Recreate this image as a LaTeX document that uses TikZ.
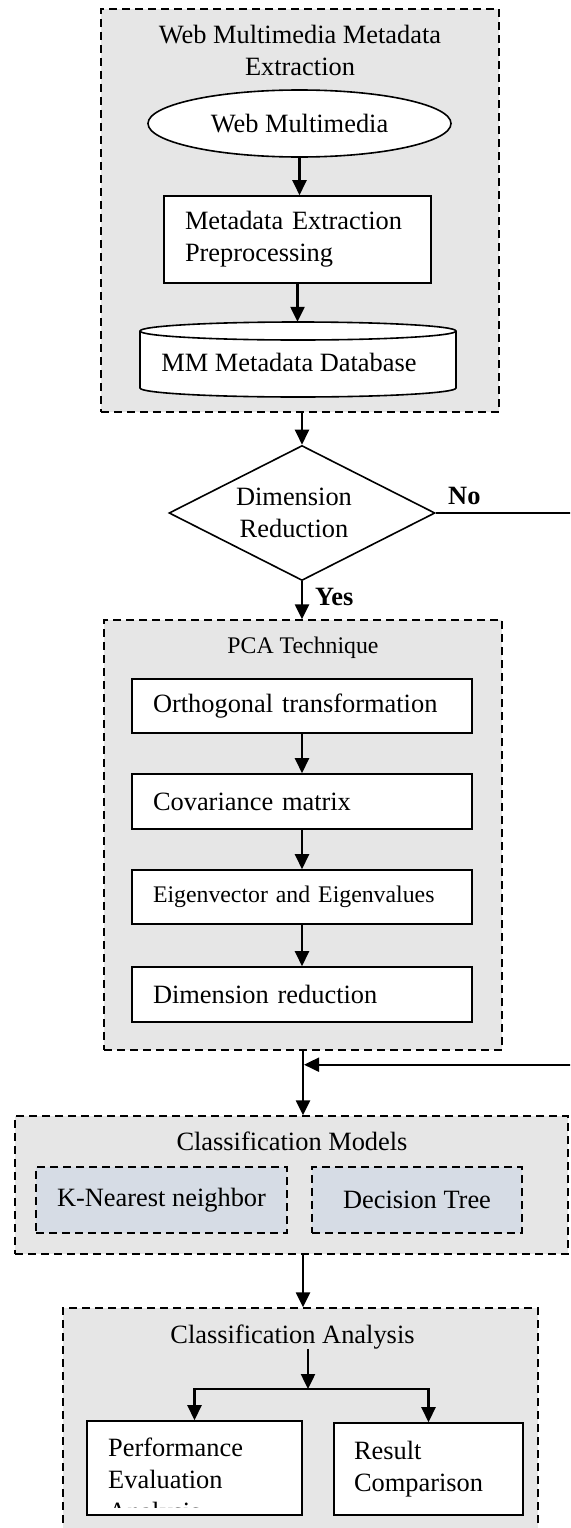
\documentclass[tikz,border=0pt]{standalone}
\usepackage{fontspec}
\setmainfont{Liberation Serif}
\usetikzlibrary{shapes.geometric,arrows.meta,calc}
\definecolor{grpgray}{HTML}{E6E6E6}
\definecolor{subblue}{HTML}{D6DCE5}
\begin{document}
\begin{tikzpicture}[x=1pt,y=-1pt,
  font=\fontsize{26.4}{31.7}\selectfont,
  grp/.style={draw, dash pattern=on 8pt off 5pt, line width=1.4pt, fill=grpgray, inner sep=0pt},
  sub/.style={grp, fill=subblue},
  procbox/.style={draw, line width=1.6pt, fill=white, inner sep=0pt},
  lbox/.style={procbox, align=left, inner xsep=21pt, inner ysep=0pt},
  arr/.style={line width=2.4pt, -{Triangle[length=15pt,width=14pt]}},
  lbl/.style={inner sep=0pt},
  smallfont/.style={font=\fontsize{23.8}{28.6}\selectfont},
  boldlbl/.style={inner sep=0pt, font=\fontsize{26.4}{31.7}\selectfont\bfseries}
]
\useasboundingbox (0,0) rectangle (570,1528);
\fill[white] (0,0) rectangle (570,1528);
\clip (0,0) rectangle (570,1528);

% ---- group 1 ----
\node[grp, minimum width=398pt, minimum height=403pt] (g1) at (300,210.5) {};
\node[lbl, align=center, anchor=base] (t1) at (300,75) {Web Multimedia Metadata\\Extraction};
\node[draw, ellipse, line width=1.6pt, fill=white, minimum width=303pt, minimum height=67pt, inner sep=0pt] (web) at (299.5,123.5) {Web Multimedia};
\node[lbox, text width=225pt, minimum height=87pt] (prep) at (297.5,239.5) {Metadata Extraction\\Preprocessing};
\node[lbl, minimum width=316pt, minimum height=75pt] (db) at (298,359.5) {};
\path[fill=white, draw, line width=1.6pt] (140,331) -- (140,388)
  arc[start angle=180, end angle=360, x radius=158pt, y radius=9pt] -- (456,331)
  arc[start angle=0, end angle=180, x radius=158pt, y radius=9pt] -- cycle;
\draw[line width=1.6pt] (140,331) arc[start angle=180, end angle=360, x radius=158pt, y radius=9pt];
\node[lbl] (dbtext) at ([xshift=-9pt,yshift=-3pt]db.center) {MM Metadata Database};

% ---- decision ----
\node[draw, diamond, aspect=1.97, line width=1.6pt, fill=white, minimum width=266pt, minimum height=135pt, inner sep=0pt] (dec) at (302,513) {};
\node[lbl, align=center] (dectext) at ([xshift=-8pt]dec.center) {Dimension\\Reduction};
\node[boldlbl, anchor=base west] (no) at (448,504) {No};
\node[boldlbl, anchor=base west] (yes) at (315,605) {Yes};

% ---- PCA ----
\node[grp, minimum width=398pt, minimum height=430pt] (pca) at (303,835) {};
\node[lbl, smallfont, anchor=base] (t2) at (303,653) {PCA Technique};
\node[lbox, text width=298pt, minimum height=54pt] (r1) at (302,706) {Orthogonal transformation};
\node[lbox, text width=298pt, minimum height=55pt] (r2) at (302,801.5) {Covariance matrix};
\node[lbox, smallfont, text width=298pt, minimum height=54pt] (r3) at (302,897) {Eigenvector and Eigenvalues};
\node[lbox, text width=298pt, minimum height=55pt] (r4) at (302,994.5) {Dimension reduction};

% ---- Classification models ----
\node[grp, minimum width=553pt, minimum height=138pt] (cm) at (291.5,1185) {};
\node[lbl, anchor=base] (t3) at (292,1150) {Classification Models};
\node[sub, minimum width=251pt, minimum height=66pt] (knn) at (161.5,1200) {K-Nearest neighbor};
\node[sub, minimum width=210pt, minimum height=66pt] (dt) at (417,1200) {Decision Tree};

% ---- Classification analysis ----
\node[grp, minimum width=475pt, minimum height=260pt] (ca) at (300.5,1438) {};
\node[lbl, anchor=base] (t4) at (292.5,1343) {Classification Analysis};
\node[procbox, minimum width=215pt, minimum height=94pt] (pe) at (194.5,1468) {};
\coordinate (peclip) at (300,1507);
\begin{scope}
  \clip ([xshift=1pt,yshift=-1pt]pe.north west) rectangle ([xshift=-1pt]pe.east |- peclip);
  \node[lbl, align=left, anchor=base west] (pet) at (108,1520.1) {Performance\\Evaluation\\Analysis};
\end{scope}
\node[lbox, text width=149pt, inner xsep=20pt, minimum height=92pt] (rc) at (428.5,1469) {Result\\Comparison};

% ---- connectors ----
\draw[arr] (web.south) -- (web.south |- prep.north);
\draw[arr] (prep.south) -- (prep.south |- db.north);
\draw[arr] (dec.north |- g1.south) -- (dec.north);
\draw[arr] (dec.south) -- (dec.south |- pca.north);
\draw[arr] (r1) -- (r2);
\draw[arr] (r2) -- (r3);
\draw[arr] (r3) -- (r4);
\coordinate (join) at ([yshift=-14pt]pca.south);
\draw[arr] (pca.south) -- (pca.south |- cm.north);
\draw[line width=2pt, -{Triangle[length=15pt,width=14pt]}, shorten >=1pt] (dec.east) -- ++(165,0) |- (join);
\draw[arr] (pca.south |- cm.south) -- (pca.south |- ca.north);
\coordinate (br) at (308,1389);
\draw[arr] (t4.south -| br) -- (br);
\draw[arr] (br) -| (pe.north);
\draw[arr] (br) -| (rc.north);
\end{tikzpicture}
\end{document}
